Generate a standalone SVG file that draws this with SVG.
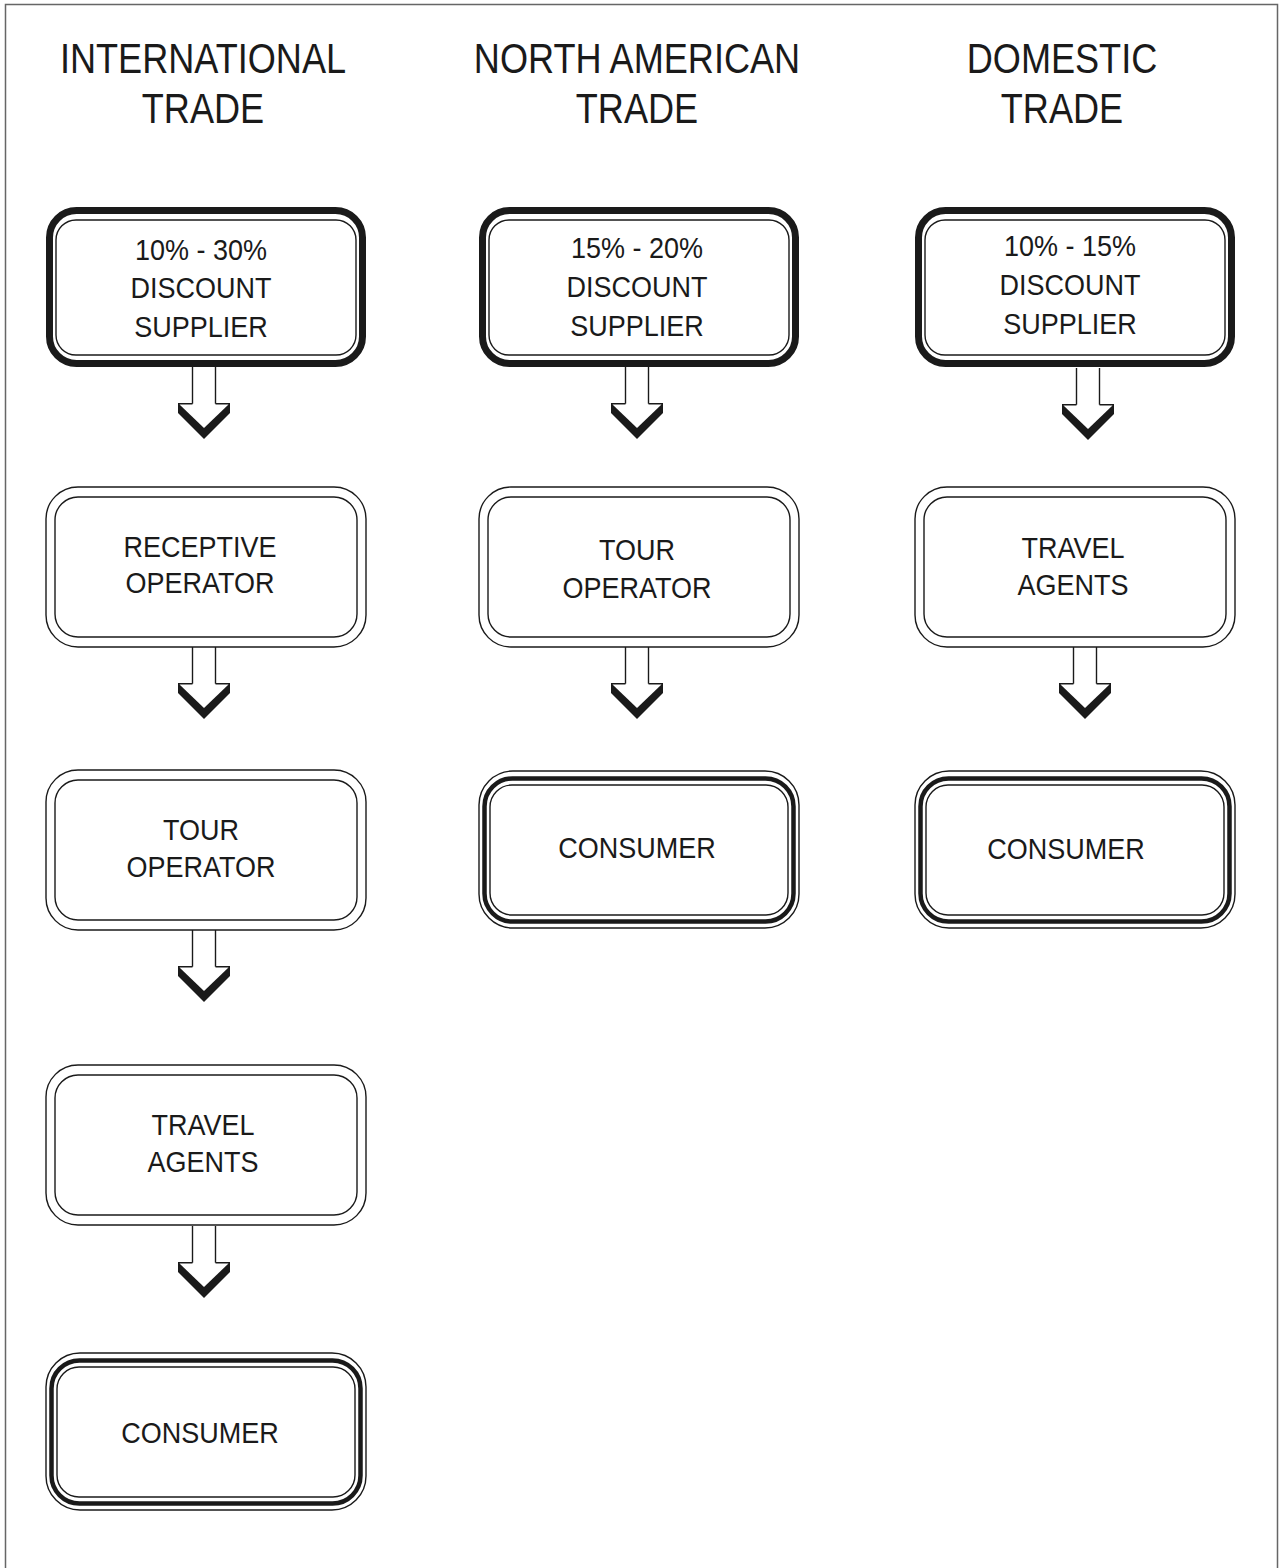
<svg xmlns="http://www.w3.org/2000/svg" width="1284" height="1568" viewBox="0 0 1284 1568">
<style>
  .page{fill:none;stroke:#666;stroke-width:1.5}
  .thick{fill:none;stroke:#1a1a1a;stroke-width:7}
  .mid{fill:none;stroke:#1a1a1a;stroke-width:4.5}
  .thin{fill:none;stroke:#1a1a1a;stroke-width:1.4}
  .hdr{font-family:"Liberation Sans",Arial,sans-serif;font-size:42px;fill:#1a1a1a;text-anchor:middle}
  .lbl{font-family:"Liberation Sans",Arial,sans-serif;font-size:30px;fill:#1a1a1a;text-anchor:middle}
</style>
<defs>
  <g id="arrow">
    <polygon points="-26,36 26,36 26,46 0,72 -26,46" fill="#1a1a1a"/>
    <polygon points="-24.5,37.5 24.5,37.5 0,61" fill="#fff"/>
    <rect x="-11.5" y="0" width="23" height="38" fill="#fff"/>
    <line x1="-11.5" y1="0" x2="-11.5" y2="36.7" stroke="#1a1a1a" stroke-width="1.4"/>
    <line x1="11.5" y1="0" x2="11.5" y2="36.7" stroke="#1a1a1a" stroke-width="1.4"/>
  </g>
  <g id="boxTop">
    <rect x="3.5" y="3.5" width="313" height="153" rx="27" class="thick"/>
    <rect x="10" y="13" width="300" height="135" rx="20" class="thin"/>
  </g>
  <g id="boxMid">
    <rect x="0" y="0" width="320" height="160" rx="32" class="thin"/>
    <rect x="9" y="10" width="302" height="140" rx="23" class="thin"/>
  </g>
  <g id="boxEnd">
    <rect x="0" y="0" width="320" height="157" rx="34" class="thin"/>
    <rect x="5.5" y="7.5" width="309" height="143" rx="28" class="mid"/>
    <rect x="11" y="14" width="298" height="130" rx="22" class="thin"/>
  </g>
</defs>

<path class="page" d="M5.5,1568 V4.5 H1277.5 V1568"/>

<g id="headers">
  <g transform="translate(203,0) scale(0.86,1)"><text class="hdr" x="0" y="73">INTERNATIONAL</text><text class="hdr" x="0" y="123">TRADE</text></g>
  <g transform="translate(637,0) scale(0.86,1)"><text class="hdr" x="0" y="73">NORTH AMERICAN</text><text class="hdr" x="0" y="123">TRADE</text></g>
  <g transform="translate(1062,0) scale(0.86,1)"><text class="hdr" x="0" y="73">DOMESTIC</text><text class="hdr" x="0" y="123">TRADE</text></g>
</g>

<g id="connectors">
  <use href="#arrow" x="204" y="367"/>
  <use href="#arrow" x="204" y="647"/>
  <use href="#arrow" x="204" y="930"/>
  <use href="#arrow" x="204" y="1226"/>
  <use href="#arrow" x="637" y="367"/>
  <use href="#arrow" x="637" y="647"/>
  <use href="#arrow" x="1088" y="368"/>
  <use href="#arrow" x="1085" y="647"/>
</g>

<!-- International column -->
<g id="int-supplier">
  <use href="#boxTop" x="46" y="207"/>
  <g transform="translate(201,0) scale(0.9,1)"><text class="lbl" x="0" y="260">10% - 30%</text><text class="lbl" x="0" y="298">DISCOUNT</text><text class="lbl" x="0" y="337">SUPPLIER</text></g>
</g>
<g id="int-receptive">
  <use href="#boxMid" x="46" y="487"/>
  <g transform="translate(200,0) scale(0.9,1)"><text class="lbl" x="0" y="557">RECEPTIVE</text><text class="lbl" x="0" y="593">OPERATOR</text></g>
</g>
<g id="int-tour">
  <use href="#boxMid" x="46" y="770"/>
  <g transform="translate(201,0) scale(0.9,1)"><text class="lbl" x="0" y="840">TOUR</text><text class="lbl" x="0" y="877">OPERATOR</text></g>
</g>
<g id="int-travel">
  <use href="#boxMid" x="46" y="1065"/>
  <g transform="translate(203,0) scale(0.9,1)"><text class="lbl" x="0" y="1135">TRAVEL</text><text class="lbl" x="0" y="1172">AGENTS</text></g>
</g>
<g id="int-consumer">
  <use href="#boxEnd" x="46" y="1353"/>
  <g transform="translate(200,0) scale(0.9,1)"><text class="lbl" x="0" y="1443">CONSUMER</text></g>
</g>

<!-- North American column -->
<g id="na-supplier">
  <use href="#boxTop" x="479" y="207"/>
  <g transform="translate(637,0) scale(0.9,1)"><text class="lbl" x="0" y="258">15% - 20%</text><text class="lbl" x="0" y="297">DISCOUNT</text><text class="lbl" x="0" y="336">SUPPLIER</text></g>
</g>
<g id="na-tour">
  <use href="#boxMid" x="479" y="487"/>
  <g transform="translate(637,0) scale(0.9,1)"><text class="lbl" x="0" y="560">TOUR</text><text class="lbl" x="0" y="598">OPERATOR</text></g>
</g>
<g id="na-consumer">
  <use href="#boxEnd" x="479" y="771"/>
  <g transform="translate(637,0) scale(0.9,1)"><text class="lbl" x="0" y="858">CONSUMER</text></g>
</g>

<!-- Domestic column -->
<g id="dom-supplier">
  <use href="#boxTop" x="915" y="207"/>
  <g transform="translate(1070,0) scale(0.9,1)"><text class="lbl" x="0" y="256">10% - 15%</text><text class="lbl" x="0" y="295">DISCOUNT</text><text class="lbl" x="0" y="334">SUPPLIER</text></g>
</g>
<g id="dom-travel">
  <use href="#boxMid" x="915" y="487"/>
  <g transform="translate(1073,0) scale(0.9,1)"><text class="lbl" x="0" y="558">TRAVEL</text><text class="lbl" x="0" y="595">AGENTS</text></g>
</g>
<g id="dom-consumer">
  <use href="#boxEnd" x="915" y="771"/>
  <g transform="translate(1066,0) scale(0.9,1)"><text class="lbl" x="0" y="859">CONSUMER</text></g>
</g>
</svg>
